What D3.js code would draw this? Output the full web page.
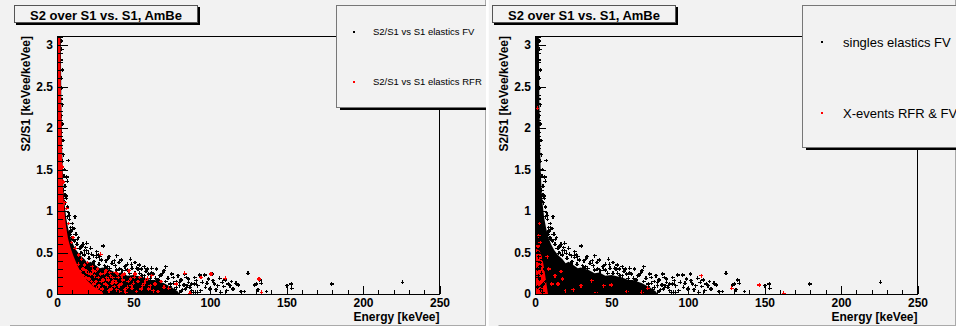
<!DOCTYPE html>
<html>
<head>
<meta charset="utf-8">
<script src="https://cdn.jsdelivr.net/npm/d3@7"></script>
<style>
body { margin: 0; background: #fff; }
svg { display: block; font-family: "Liberation Sans", Arial, Helvetica, sans-serif; }
</style>
</head>
<body>
<svg id="chart" width="956" height="327"></svg>
<script>
// axis ranges and ticks
var xMax = 250, yMax = 3.11;
var xMajor = [0, 50, 100, 150, 200, 250];
var yMajor = [0, 0.5, 1, 1.5, 2, 2.5, 3];
var titleText = "S2 over S1 vs. S1, AmBe";
var xTitle = "Energy [keVee]";
var yTitle = "S2/S1 [keVee/keVee]";

// dense part of each cloud: [energy, upper S2/S1], filled down to 0
var fvCore = [[0,3.11],[2.5,3.11],[2.8,2.4],[3.2,1.9],[3.7,1.5],[4.3,1.25],[5,1.08],[6,0.92],[7.2,0.8],[8.8,0.68],
  [10.5,0.6],[12.5,0.53],[15,0.47],[18,0.42],[20,0.37],[22,0.39],[25,0.35],[28,0.31],[30,0.32],[35,0.29],
  [39,0.25],[42,0.26],[46,0.22],[50,0.23],[57,0.2],[61,0.17],[64,0.17],[70,0.13],[73,0.1],[75,0.08],[79,0.03],[80,0]];
var rfrCore = [[0,3.11],[2.1,3.11],[2.5,2.5],[3.0,1.9],[3.5,1.5],[4.1,1.2],[4.8,1.0],[5.8,0.83],[7.2,0.67],[8.8,0.56],
  [10.5,0.47],[12.5,0.38],[14.5,0.3],[17,0.23],[20,0.16],[24,0.09],[29,0.03],[31,0]];
var xevCore = [[0,0.55],[3,0.52],[4.5,0.45],[5.5,0.36],[6.5,0.25],[7.5,0.12],[8.5,0]];

// single events outside the dense part: [energy, S2/S1]
var fvPoints = [
  [2.6,3.05],[3.1,2.95],[2.4,2.82],[3.4,2.7],[2.7,2.6],[3.0,2.48],[2.5,2.35],[3.6,2.28],[2.8,2.15],[3.2,2.05],
  [2.6,1.95],[3.9,1.85],[3.0,1.75],[4.2,1.68],[3.4,1.6],[7.4,1.61],[6.3,1.41],[6.7,1.36],[4.8,1.5],[2.9,1.45],
  [5.2,1.3],[4.4,1.25],[5.8,1.18],[3.8,1.12],
  [5.5,1.1],[6.8,1.05],[7.5,0.98],[11.7,0.93],[10,0.85],[11.1,0.79],[8.2,0.9],[9.0,0.8],[12.5,0.72],[8.5,0.72],
  [14,0.68],[10.5,0.66],[19.4,0.61],[15,0.55],[17,0.6],[13,0.6],[22,0.55],[30.2,0.58],[25.9,0.51],[20.5,0.49],
  [18,0.52],[24,0.46],[28,0.45],[16,0.5],
  [35.7,0.37],[44.4,0.33],[48.7,0.36],[50.9,0.38],[53.7,0.35],[32,0.4],[38,0.34],[41,0.3],[46,0.29],[33,0.33],
  [58.4,0.27],[62,0.26],[67.2,0.22],[71.1,0.33],[70,0.28],[65,0.3],[55,0.3],[60,0.24],[52,0.31],[57,0.22],
  [83.5,0.24],[84.5,0.2],[86,0.18],[78,0.15],[80,0.1],[82,0.05],[88,0.12],[89,0.02],[91,0.16],[93.3,0.23],
  [96.6,0.23],[95,0.14],[97,0.08],[99,0.18],[101.6,0.24],[103,0.12],[104,0.05],[106.4,0.19],[108,0.14],[109,0.09],
  [110,0.17],[112,0.12],[113,0.1],[115,0.06],[117,0.13],[118.4,0.11],[120,0.03],[122.4,0.03],[124.9,0.25],[129.2,0.11],
  [130.3,0.12],[131.3,0.05],[132.5,0.17],[133.5,0.13],[136.9,0.03],[150.3,0.1],[153.1,0.12],[153.5,0.07],[179.5,0.12],[225.8,0.14],
  [76,0.2],[79,0.22],[87,0.08],[92,0.1],[100,0.06],[102,0.16],[105,0.1],[111,0.04],[90,0.2],[85,0.1],
  [81,0.17],[94,0.04],[98,0.13],[107,0.02],[114,0.15],[74,0.12],[77,0.05],[75,0.24],
  [2.5,0.45],[3.5,0.38],[1.8,0.3],[4.2,0.25],[2.9,0.18],[5.5,0.12],[1.5,0.08],[3.8,0.05],[6.2,0.3],[4.8,0.42],
  [2.2,0.22],[5.0,0.02],[3.2,0.33],[6.8,0.15],[1.9,0.5],[4.5,0.1],
  [4.6,1.42],[5.3,1.2],[6.1,1.15],[7.0,0.93],[8.0,0.95],[9.3,0.76],[10.2,0.8],[11.5,0.64],[13.2,0.66],[14.5,0.55],
  [16.3,0.58],[17.8,0.47],[19.5,0.52],[21,0.43],[22.5,0.48],[24.2,0.39],[26,0.44],[27.5,0.36],[29,0.41],[31,0.34],
  [33,0.42],[34.5,0.31],[36.5,0.37],[39,0.29],[40.5,0.38],[43,0.28],[45,0.34],[47.5,0.25],[49,0.31],[51,0.25],
  [53,0.3],[55.5,0.22],[58,0.27],[61,0.19],[63,0.24],[66,0.17],[68,0.23],[71,0.15],[72.5,0.19],[74,0.09],
  [76,0.13],[78,0.08],[80,0.14],[81,0.03],[83,0.11],[84,0.06],[86,0.14],[88,0.04],[90,0.12],[92,0.02],
  [9.8,0.68],[12,0.72],[15.5,0.49],[18.8,0.56],[23.5,0.36],[27,0.47],[32,0.31],[37.5,0.4],[42,0.25],[46,0.36],
  [54,0.25],[59,0.3],[64.5,0.19],[69,0.25],
  [34,0.45],[42,0.41],[57,0.33],[62,0.31],[48,0.42],[39,0.46]
];
var rfrPoints = [
  [3.5,1.53],[6.3,1.03],[5.0,1.1],[4.2,1.35],[7.5,0.85],[9.5,0.62],[12,0.55],[10.5,0.68],[14,0.47],[16,0.42],
  [28.5,0.48],[20,0.38],[23,0.33],[18,0.35],
  [19,0.28],[22,0.24],[25,0.27],[27,0.2],[29,0.15],[31,0.25],[33,0.1],[35,0.22],[37,0.16],[39,0.05],
  [40,0.2],[42,0.12],[44,0.24],[46,0.08],[48,0.18],[50,0.13],[52,0.03],[54,0.2],[56,0.1],[58,0.16],
  [60,0.06],[62,0.22],[64,0.12],[66,0.03],[68,0.15],[70,0.08],[24,0.12],[26,0.07],[28,0.03],[30,0.17],
  [32,0.28],[34,0.04],[36,0.13],[38,0.26],[41,0.03],[43,0.17],[45,0.02],[47,0.28],[49,0.07],[51,0.24],
  [53,0.15],[21,0.18],[23,0.05],[20,0.1],[17,0.22],[25.5,0.15],
  [9,0.4],[10,0.35],[11,0.28],[12,0.22],[13,0.15],[14,0.36],[15,0.27],[16,0.1],[17,0.3],[18,0.05],
  [19,0.2],[20.5,0.25],[21.5,0.08],[22.5,0.15],[23.5,0.28],[24.5,0.22],[26.5,0.3],[27.5,0.1],[28.5,0.24],[29.5,0.06],
  [31.5,0.12],[32.5,0.2],[33.5,0.17],[34.5,0.26],[35.5,0.06],[36.5,0.2],[37.5,0.09],[38.5,0.14],[39.5,0.24],[40.5,0.1],
  [42.5,0.22],[44.5,0.05],[46.5,0.15],[48.5,0.1],[50.5,0.2],[55,0.06],[57,0.13],[59,0.19],[61,0.1],[63,0.04],
  [83.5,0.25],[94.2,0.2],[100.7,0.24],[110,0.19],[132,0.18],[133.6,0.02],[87,0.01],[73,0.07],[78,0.12]
];
var xevPoints = [
  [108.6,0.22],[128.6,0.07],[146.6,0.11],[162.5,0.01],[49.8,0.11],[73.7,0.07],[70,0.02],[17,0.27],[13,0.22],[15,0.12],
  [18,0.18],[37,0.16],[25,0.05],[45,0.1],[60,0.03],[1.5,2.24],[3,0.85],[2.5,0.7],[3.5,0.62],[2,0.58],
  [9,0.3],[11,0.12],[20,0.04],[8,0.45],[30,0.1],[40,0.02]
];

var bg = "#f2f2f2";
var svg = d3.select("#chart");

var panels = [
  { x0: 0, x1: 486, shift: 0,
    legend: { x: 336, y: 5, w: 152, h: 102, dotX: 354, textX: 373, rows: [32, 82], size: 9.5 },
    labels: ["S2/S1 vs S1 elastics FV", "S2/S1 vs S1 elastics RFR"],
    layers: [["area", fvCore, "#000"], ["pts", fvPoints, "#000"], ["area", rfrCore, "red"], ["pts", rfrPoints, "red"]] },
  { x0: 488.5, x1: 956, shift: 478,
    legend: { x: 324, y: 5, w: 170, h: 142, dotX: 344, textX: 365, rows: [42, 113], size: 13 },
    labels: ["singles elastics FV", "X-events RFR & FV"],
    layers: [["area", fvCore, "#000"], ["area", xevCore, "red"], ["pts", fvPoints, "#000"], ["pts", xevPoints, "red"]] }
];

var x = d3.scaleLinear().domain([0, xMax]).range([57, 439.5]);
var y = d3.scaleLinear().domain([0, yMax]).range([294, 36]);

var area = d3.area()
  .x(function(d) { return x(d[0]); })
  .y0(y(0))
  .y1(function(d) { return y(d[1]); });
var cross = d3.symbol().type(d3.symbolCross).size(8);

panels.forEach(function(p, i) {
  var defs = svg.append("defs");
  defs.append("clipPath").attr("id", "panel" + i)
    .append("rect").attr("x", p.x0).attr("y", 0).attr("width", p.x1 - p.x0).attr("height", 326);
  defs.append("clipPath").attr("id", "frame" + i)
    .append("rect").attr("x", x(0) - 2).attr("y", y(yMax)).attr("width", x(xMax) - x(0) + 2).attr("height", y(0) - y(yMax));

  var pg = svg.append("g").attr("clip-path", "url(#panel" + i + ")");
  pg.append("rect").attr("x", p.x0).attr("y", 0).attr("width", p.x1 - p.x0).attr("height", 326).attr("fill", bg);
  pg.append("line").attr("x1", p.x0 + 10).attr("x2", p.x1).attr("y1", 325.5).attr("y2", 325.5).attr("stroke", "#aaa");
  pg.append("line").attr("x1", p.x1 - 0.5).attr("x2", p.x1 - 0.5).attr("y1", 0).attr("y2", 326).attr("stroke", "#aaa");

  var g = pg.append("g").attr("transform", "translate(" + p.shift + ",0)");

  // data
  var data = g.append("g").attr("clip-path", "url(#frame" + i + ")");
  p.layers.forEach(function(l) {
    if (l[0] === "area") {
      data.append("path").datum(l[1]).attr("d", area).attr("fill", l[2]);
    } else {
      data.append("g").selectAll("path").data(l[1]).enter().append("path")
        .attr("transform", function(d) { return "translate(" + x(d[0]) + "," + y(d[1]) + ")"; })
        .attr("d", cross).attr("fill", l[2]).attr("shape-rendering", "crispEdges");
    }
  });

  // frame
  g.append("rect").attr("x", x(0)).attr("y", y(yMax)).attr("width", x(xMax) - x(0)).attr("height", y(0) - y(yMax))
    .attr("fill", "none").attr("stroke", "#000").attr("stroke-width", 1).attr("shape-rendering", "crispEdges");

  // x axis
  var xMinor = d3.range(0, xMax + 1, 10).filter(function(v) { return v % 50 !== 0; });
  var gx = g.append("g").attr("transform", "translate(0," + y(0) + ")");
  gx.call(d3.axisBottom(x).tickValues(xMajor).tickSizeInner(-8).tickSizeOuter(0).tickPadding(4).tickFormat(d3.format("d")));
  gx.append("g").call(d3.axisBottom(x).tickValues(xMinor).tickSizeInner(-4).tickSizeOuter(0).tickFormat(""))
    .select(".domain").remove();

  // y axis
  var yMinor = d3.range(0, 32).map(function(v) { return v / 10; }).filter(function(v) { return (v * 10) % 5 !== 0; });
  var gy = g.append("g").attr("transform", "translate(" + x(0) + ",0)");
  gy.call(d3.axisLeft(y).tickValues(yMajor).tickSizeInner(-11).tickSizeOuter(0).tickPadding(4).tickFormat(d3.format("~g")));
  gy.append("g").call(d3.axisLeft(y).tickValues(yMinor).tickSizeInner(-5.5).tickSizeOuter(0).tickFormat(""))
    .select(".domain").remove();

  g.selectAll(".tick text").attr("font-size", 12).attr("font-weight", "bold").attr("fill", "#000")
    .attr("font-family", "Liberation Sans, Arial, sans-serif");
  g.selectAll(".tick line, .domain").attr("stroke", "#000").attr("shape-rendering", "crispEdges");

  // axis titles
  g.append("text").attr("x", x(xMax)).attr("y", 320.5).attr("text-anchor", "end")
    .attr("font-size", 12).attr("font-weight", "bold").text(xTitle);
  g.append("text").attr("transform", "translate(30," + y(yMax) + ") rotate(-90)").attr("text-anchor", "end")
    .attr("font-size", 12).attr("font-weight", "bold").text(yTitle);

  // title box
  g.append("rect").attr("x", 16).attr("y", 7).attr("width", 184).attr("height", 18).attr("fill", "#000");
  g.append("rect").attr("x", 14.5).attr("y", 5.5).attr("width", 183).attr("height", 17)
    .attr("fill", bg).attr("stroke", "#555");
  g.append("text").attr("x", 106).attr("y", 19.5).attr("text-anchor", "middle")
    .attr("font-size", 13).attr("font-weight", "bold").text(titleText);

  // legend
  var L = p.legend;
  g.append("rect").attr("x", L.x + 4).attr("y", L.y + 3).attr("width", L.w).attr("height", L.h).attr("fill", "#000");
  g.append("rect").attr("x", L.x + 0.5).attr("y", L.y + 0.5).attr("width", L.w).attr("height", L.h)
    .attr("fill", bg).attr("stroke", "#777");
  var colors = ["#000", "red"];
  p.labels.forEach(function(t, k) {
    g.append("rect").attr("x", L.dotX - 1).attr("y", L.rows[k] - 1).attr("width", 2).attr("height", 2).attr("fill", colors[k]);
    g.append("text").attr("x", L.textX).attr("y", L.rows[k]).attr("dy", "0.35em")
      .attr("font-size", L.size).attr("fill", "#000").text(t);
  });
});
</script>
</body>
</html>
